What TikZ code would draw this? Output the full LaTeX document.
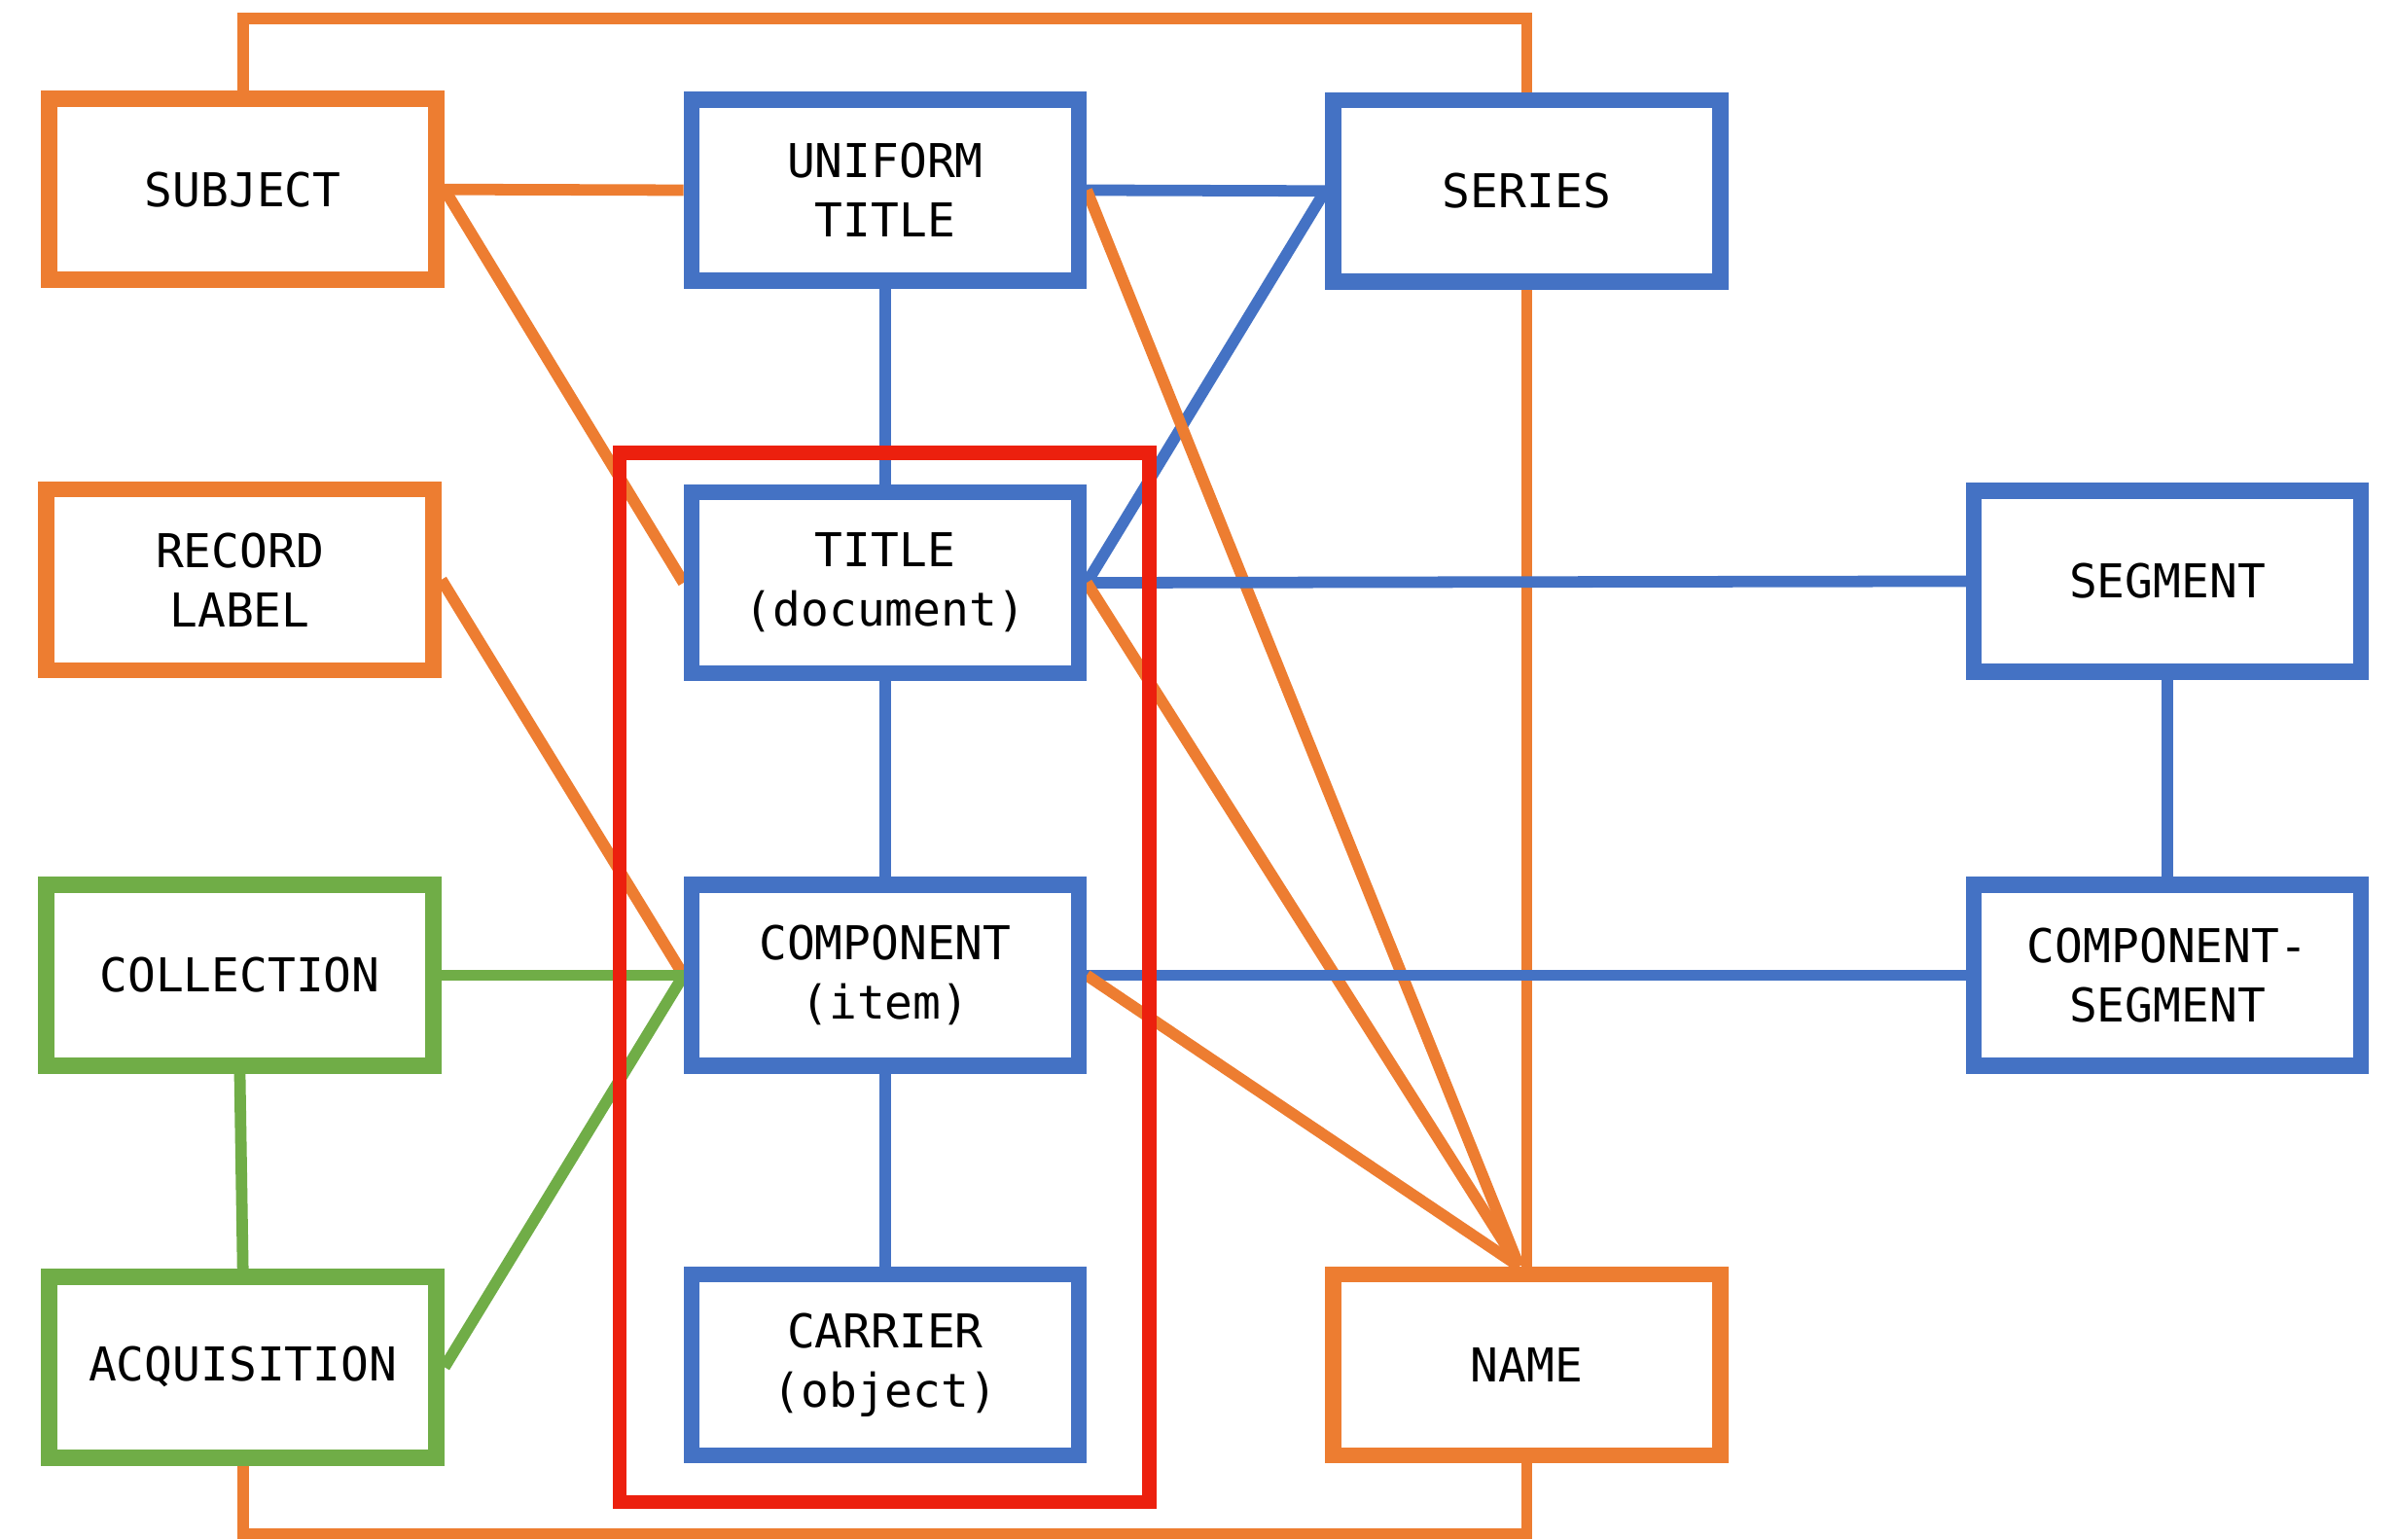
\documentclass[tikz,border=0pt]{standalone}
\usepackage{fontspec}
\setmonofont{DejaVu Sans Mono}
\usetikzlibrary{calc}
\definecolor{cOr}{RGB}{237,125,49}
\definecolor{cBl}{RGB}{68,114,196}
\definecolor{cGr}{RGB}{112,173,71}
\definecolor{cRd}{RGB}{236,32,14}
\pgfdeclarelayer{bg}
\pgfsetlayers{bg,main}
\begin{document}
\begin{tikzpicture}[x=1pt,y=-1pt,
 ent/.style={draw, line width=10.5pt, fill=white, minimum width=253.5pt, minimum height=118.5pt, inner sep=0pt, align=center, font=\ttfamily\fontsize{30.5}{39}\selectfont, text=black},
 ob/.style={ent, draw=cOr}, bb/.style={ent, draw=cBl}, gb/.style={ent, draw=cGr},
 lk/.style={line width=7.5pt},
 ol/.style={lk, draw=cOr}, bl/.style={lk, draw=cBl}, gl/.style={lk, draw=cGr}]
\useasboundingbox (0,0) rectangle (1568,1008);

\node[ob] (subj) at (159,124) {SUBJECT};
\node[bb] (unif) at (579.5,124.5) {UNIFORM\\TITLE};
\node[bb] (seri) at (999.5,125) {SERIES};
\node[ob] (reco) at (157,379.5) {RECORD\\LABEL};
\node[bb] (titl) at (579.5,381.5) {TITLE\\(document)};
\node[bb] (segm) at (1419,380.5) {SEGMENT};
\node[gb] (coll) at (157,638.5) {COLLECTION};
\node[bb] (comp) at (579.5,638.5) {COMPONENT\\(item)};
\node[bb] (cseg) at (1419,638.5) {COMPONENT-\\SEGMENT};
\node[gb] (acqu) at (159,895) {ACQUISITION};
\node[bb] (carr) at (579.5,893.5) {CARRIER\\(object)};
\node[ob] (name) at (999.5,893.5) {NAME};

\coordinate (topy) at (0,12);
\coordinate (boty) at (0,1004);

\begin{pgfonlayer}{bg}
\fill[white] (0,0) rectangle (1568,1008);
\draw[ol] (subj.north) -- (subj.north |- topy) -| (name.north);
\draw[ol] (acqu.south) -- (acqu.south |- boty) -| (name.south);
\draw[ol] (subj.east) -- (unif.west);
\draw[ol] (subj.east) -- (titl.west);
\draw[bl] (unif.east) -- (seri.west);
\draw[bl] (unif.south) -- (titl.north);
\draw[bl] (seri.west) -- (titl.east);
\draw[ol] (unif.east) -- ([xshift=-5pt]name.north);
\draw[bl] (titl.east) -- (segm.west);
\draw[ol] (titl.east) -- ([xshift=-5pt]name.north);
\draw[bl] (titl.south) -- (comp.north);
\draw[ol] (reco.east) -- (comp.west);
\draw[gl] (coll.east) -- (comp.west);
\draw[gl] (acqu.east) -- (comp.west);
\draw[gl] (coll.south) -- (acqu.north);
\draw[bl] (comp.east) -- (cseg.west);
\draw[ol] (comp.east) -- ([xshift=-5pt]name.north);
\draw[bl] (comp.south) -- (carr.north);
\draw[bl] (segm.south) -- (cseg.north);
\end{pgfonlayer}

\draw[cRd, line width=9pt] (405.5,296.5) rectangle (752.5,983.5);
\end{tikzpicture}
\end{document}
